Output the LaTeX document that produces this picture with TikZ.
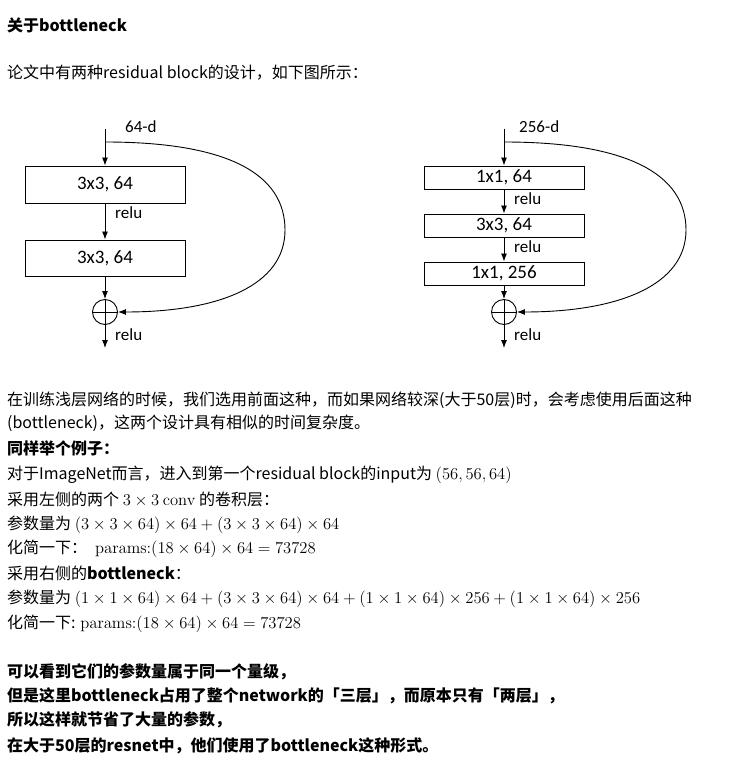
\documentclass[tikz,border=0pt]{standalone}
\usepackage{fix-cm}
\usepackage[no-math]{fontspec}
\setmainfont{Noto Sans CJK SC}
\newfontfamily\figfont{Carlito}
\DeclareMathSizes{16}{16.6}{11.6}{9}
\usetikzlibrary{arrows.meta}

\begin{document}
\begin{tikzpicture}[x=1pt,y=-1pt,
  txt/.style={anchor=west,inner sep=0pt,font=\fontsize{16}{19}\selectfont},
  btxt/.style={anchor=west,inner sep=0pt,font=\fontsize{16}{19}\selectfont\bfseries},
  layer/.style={draw,line width=0.9pt,minimum width=160pt,inner sep=0pt,font=\figfont\fontsize{19}{22}\selectfont},
  lbl/.style={anchor=west,inner sep=0pt,font=\figfont\fontsize{17}{20}\selectfont},
  arr/.style={line width=0.9pt,-{Latex[length=8pt,width=6pt]}},
  addop/.style={circle,draw,line width=0.9pt,minimum size=25pt,inner sep=0pt,
    path picture={\draw[line width=0.9pt] (path picture bounding box.north) -- (path picture bounding box.south)
      (path picture bounding box.west) -- (path picture bounding box.east);}}
]
\useasboundingbox (0,0) rectangle (730,783);

\node[btxt] (title) at (7,25) {关于bottleneck};
\node[txt] (intro) at (7,73) {论文中有两种residual block的设计，如下图所示：};

% left block
\coordinate (inA) at (105,129);
\coordinate (brA) at (105,142);
\coordinate (outA) at (105,348);
\node[lbl] (dimA) at (125,127) {64-d};
\node[layer,minimum height=37pt] (convA1) at (105,184.5) {3x3, 64};
\node[layer,minimum height=36pt] (convA2) at (105,258) {3x3, 64};
\node[addop] (addA) at (105,312) {};
\node[lbl] (reluA1) at (115,213) {relu};
\node[lbl] (reluA2) at (115,335) {relu};
\draw[arr] (inA) -- (convA1);
\draw[arr] (convA1) -- (convA2);
\draw[arr] (convA2) -- (addA);
\draw[arr] (addA) -- (outA);
\draw[arr] (brA) .. controls (230,142) and (285,175) .. (285,230)
  .. controls (285,285) and (220,312) .. (addA);

% right block
\coordinate (inB) at (504,129);
\coordinate (brB) at (504,142);
\coordinate (outB) at (504,348);
\node[lbl] (dimB) at (519,127) {256-d};
\node[layer,minimum height=23pt] (convB1) at (504,177.5) {1x1, 64};
\node[layer,minimum height=23pt] (convB2) at (504,225.5) {3x3, 64};
\node[layer,minimum height=23pt] (convB3) at (504,273.5) {1x1, 256};
\node[addop] (addB) at (504,312) {};
\node[lbl] (reluB1) at (514,199) {relu};
\node[lbl] (reluB2) at (514,247) {relu};
\node[lbl] (reluB3) at (514,335) {relu};
\draw[arr] (inB) -- (convB1);
\draw[arr] (convB1) -- (convB2);
\draw[arr] (convB2) -- (convB3);
\draw[arr] (convB3) -- (addB);
\draw[arr] (addB) -- (outB);
\draw[arr] (brB) .. controls (629,142) and (686,175) .. (686,230)
  .. controls (686,285) and (619,312) .. (addB);

% text below
\node[txt] (p1) at (7,400) {在训练浅层网络的时候，我们选用前面这种，而如果网络较深(大于50层)时，会考虑使用后面这种};
\node[txt] (p2) at (7,423) {(bottleneck)，这两个设计具有相似的时间复杂度。};
\node[btxt] (p3) at (7,448) {同样举个例子：};
\node[txt] (p4) at (7,475) {对于ImageNet而言，进入到第一个residual block的input为 $(56,56,64)$};
\node[txt] (p5) at (7,499) {采用左侧的两个 $3\times3\ \mathrm{conv}$ 的卷积层：};
\node[txt] (p6) at (7,525) {参数量为 $(3\times3\times64)\times64+(3\times3\times64)\times64$};
\node[txt] (p7) at (7,549) {化简一下：\enspace$\mathrm{params}{:}(18\times64)\times64=73728$};
\node[txt] (p8) at (7,573) {采用右侧的\textbf{bottleneck}：};
\node[txt] (p9) at (7,599) {参数量为 $(1\times1\times64)\times64+(3\times3\times64)\times64+(1\times1\times64)\times256+(1\times1\times64)\times256$};
\node[txt] (p10) at (7,624) {化简一下: $\mathrm{params}{:}(18\times64)\times64=73728$};
\node[btxt] (p11) at (7,672) {可以看到它们的参数量属于同一个量级，};
\node[btxt] (p12) at (7,696) {但是这里bottleneck占用了整个network的「三层」，而原本只有「两层」，};
\node[btxt] (p13) at (7,720) {所以这样就节省了大量的参数，};
\node[btxt] (p14) at (7,746) {在大于50层的resnet中，他们使用了bottleneck这种形式。};
\end{tikzpicture}
\end{document}
